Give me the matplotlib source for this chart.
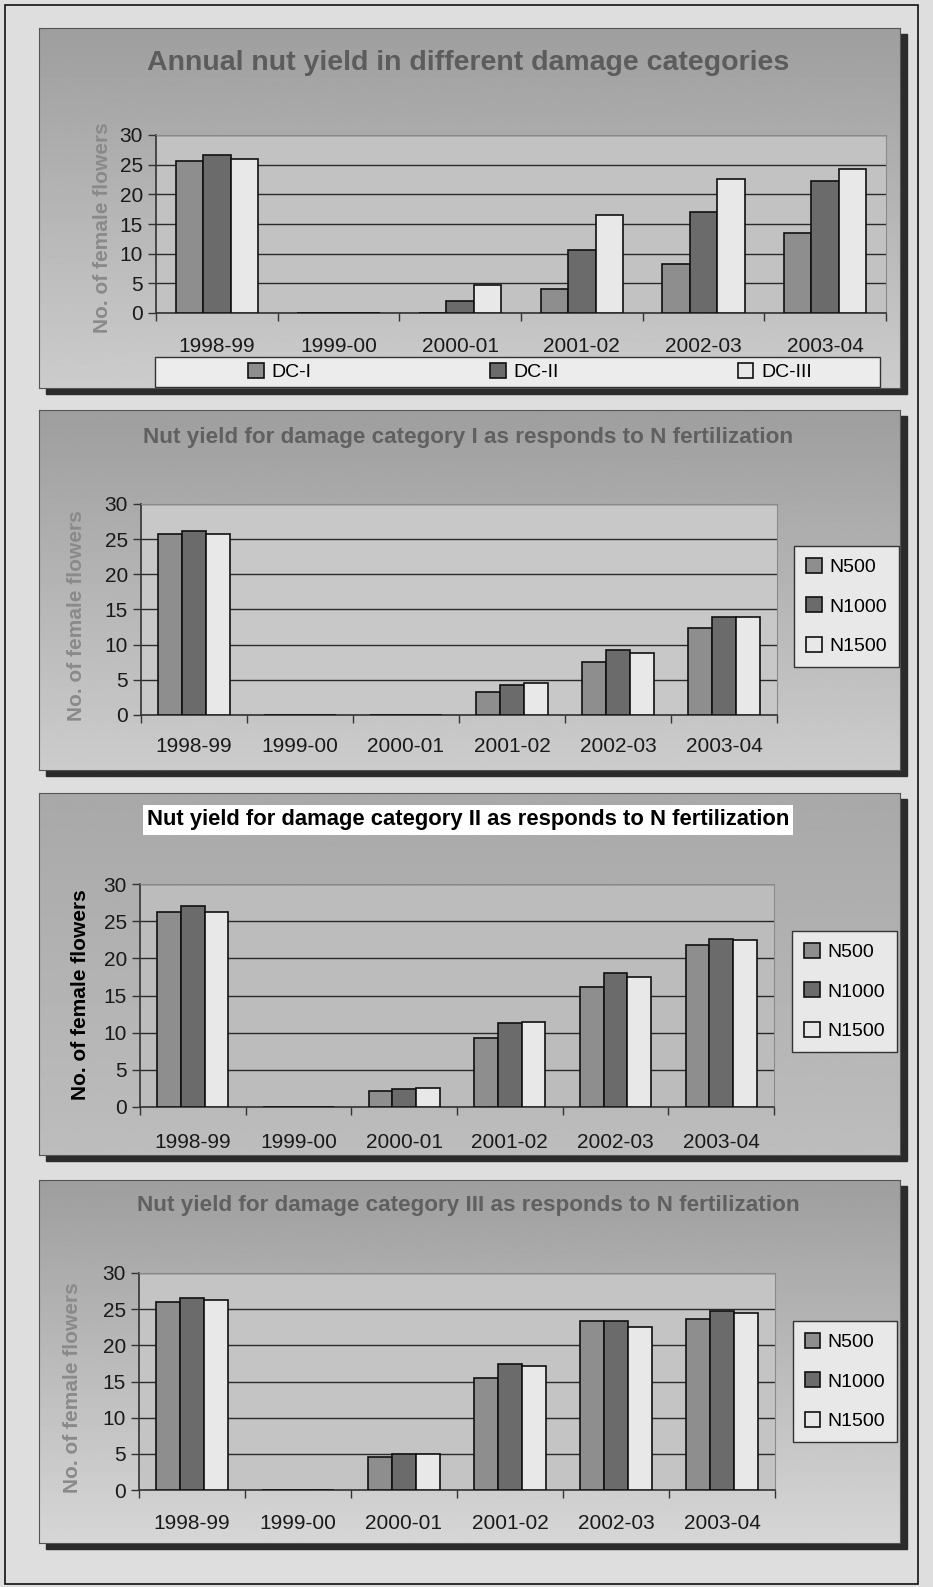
import matplotlib
matplotlib.use("Agg")
import matplotlib.pyplot as plt
from matplotlib.patches import Rectangle
import numpy as np

plt.rcParams['font.family'] = ['Liberation Sans', 'DejaVu Sans']

years = ["1998-99", "1999-00", "2000-01", "2001-02", "2002-03", "2003-04"]

# panel 1: damage categories
dc_labels = ["DC-I", "DC-II", "DC-III"]
dc1 = [25.6, 0, 0, 4.0, 8.2, 13.4]
dc2 = [26.6, 0, 2.1, 10.6, 17.1, 22.2]
dc3 = [25.9, 0, 4.7, 16.5, 22.6, 24.2]

# panels 2-4: N fertilization levels
n_labels = ["N500", "N1000", "N1500"]
cat1_n500 = [25.8, 0, 0, 3.2, 7.5, 12.4]
cat1_n1000 = [26.1, 0, 0, 4.2, 9.2, 14.0]
cat1_n1500 = [25.8, 0, 0, 4.5, 8.8, 14.0]

cat2_n500 = [26.3, 0, 2.1, 9.3, 16.1, 21.8]
cat2_n1000 = [27.0, 0, 2.4, 11.3, 18.0, 22.6]
cat2_n1500 = [26.3, 0, 2.5, 11.4, 17.5, 22.4]

cat3_n500 = [26.0, 0, 4.5, 15.5, 23.3, 23.7]
cat3_n1000 = [26.5, 0, 5.0, 17.4, 23.3, 24.8]
cat3_n1500 = [26.2, 0, 5.0, 17.1, 22.5, 24.5]

titles = ["Annual nut yield in different damage categories",
          "Nut yield for damage category I as responds to N fertilization",
          "Nut yield for damage category II as responds to N fertilization",
          "Nut yield for damage category III as responds to N fertilization"]

bar_colors = ["#8e8e8e", "#6b6b6b", "#e8e8e8"]

W, H = 933, 1587
fig = plt.figure(figsize=(W / 100, H / 100), dpi=100, facecolor="#dedede")


def box(x0, y0, x1, y1):
    # pixel box (y from top) -> figure rect
    return [x0 / W, 1 - y1 / H, (x1 - x0) / W, (y1 - y0) / H]


def fpt(x, y):
    return x / W, 1 - y / H


# page frame
fig.add_artist(Rectangle(fpt(5, 1584), 913 / W, 1579 / H, transform=fig.transFigure,
                         fill=False, edgecolor="#111111", lw=1.2, zorder=-2))

panels = [(39, 28, 900, 388), (39, 410, 900, 770), (39, 793, 900, 1155), (39, 1180, 900, 1543)]
plot_boxes = [(156, 135, 886, 313), (141, 504, 777, 715), (140, 884, 774, 1107), (139, 1273, 775, 1490)]
plot_bg = ["#c2c2c2", "#c8c8c8", "#bcbcbc", "#c4c4c4"]
grad_top = [0.62, 0.62, 0.66, 0.62]
grad_bot = [0.80, 0.80, 0.74, 0.84]
title_y = [63, 438, 820, 1205]
title_size = [20.5, 16.2, 15.8, 16.2]
title_color = ["#5c5c5c", "#606060", "#000000", "#606060"]
xlab_pad = [17.6, 16.2, 19.0, 17.6]
ylab_pos = [(103, 228), (76, 616), (80, 995), (73, 1388)]
ylab_color = ["#8a8a8a", "#8a8a8a", "#000000", "#8a8a8a"]
legend_boxes = [None, (798, 550, 895, 663), (796, 942, 893, 1041), (797, 1326, 893, 1437)]

series = [[dc1, dc2, dc3],
          [cat1_n500, cat1_n1000, cat1_n1500],
          [cat2_n500, cat2_n1000, cat2_n1500],
          [cat3_n500, cat3_n1000, cat3_n1500]]
labels = [dc_labels, n_labels, n_labels, n_labels]

x = np.arange(len(years))
bw = 0.225

for i in range(4):
    x0, y0, x1, y1 = panels[i]
    # shadow
    fig.add_artist(Rectangle(fpt(x0 + 7, y1 + 6), (x1 - x0) / W, (y1 - y0) / H,
                             transform=fig.transFigure, color="#2b2b2b", zorder=-1))
    bg = fig.add_axes(box(x0, y0, x1, y1), zorder=0)
    grad = np.linspace(grad_top[i], grad_bot[i], 256).reshape(-1, 1)
    bg.imshow(grad, aspect="auto", cmap="gray", vmin=0, vmax=1, extent=[0, 1, 0, 1])
    bg.set_xticks([])
    bg.set_yticks([])
    for s in bg.spines.values():
        s.set_color("#555555")
        s.set_linewidth(0.8)

    ax = fig.add_axes(box(*plot_boxes[i]), zorder=2)
    ax.set_facecolor(plot_bg[i])
    for j in range(3):
        ax.bar(x + (j - 1) * bw, series[i][j], bw, color=bar_colors[j],
               edgecolor="#111111", lw=1.2, label=labels[i][j], zorder=3)
    ax.set_xlim(-0.5, 5.5)
    ax.set_ylim(0, 30)
    ax.set_yticks(range(0, 31, 5))
    ax.set_xticks(x)
    ax.set_xticklabels(years)
    ax.set_xticks(np.arange(-0.5, 6, 1), minor=True)
    ax.tick_params(axis="x", which="major", length=0, labelsize=15, pad=xlab_pad[i], colors="#1a1a1a")
    ax.tick_params(axis="x", which="minor", length=6, width=1, color="#333333")
    ax.tick_params(axis="y", length=6, width=1, labelsize=15, color="#333333", labelcolor="#1a1a1a")
    ax.yaxis.grid(True, color="#2a2a2a", lw=1)
    ax.set_axisbelow(True)
    for side in ["left", "bottom"]:
        ax.spines[side].set_color("#333333")
        ax.spines[side].set_linewidth(1.2)
    for side in ["top", "right"]:
        ax.spines[side].set_color("#8a8a8a")

    tx, ty = fpt(468, title_y[i])
    kw = {}
    if i == 2:
        kw["bbox"] = dict(facecolor="white", edgecolor="none", pad=3)
    fig.text(tx, ty, titles[i], ha="center", va="center", fontsize=title_size[i],
             fontweight="bold", color=title_color[i], zorder=5, **kw)

    lx, ly = fpt(*ylab_pos[i])
    fig.text(lx, ly, "No. of female flowers", rotation=90, ha="center", va="center",
             fontsize=15, fontweight="bold", color=ylab_color[i], zorder=5)

    if i == 0:
        fig.add_artist(Rectangle(fpt(155, 387), 725 / W, 30 / H, transform=fig.transFigure,
                                 facecolor="#ececec", edgecolor="#333333", lw=1, zorder=3))
        fig.legend(*ax.get_legend_handles_labels(), loc="center left",
                   bbox_to_anchor=fpt(248, 372), ncol=3, frameon=False, fontsize=14,
                   handlelength=0.8, handleheight=0.8, handletextpad=0.4,
                   columnspacing=9.2, borderpad=0, borderaxespad=0).set_zorder(4)
    else:
        bx0, by0, bx1, by1 = legend_boxes[i]
        leg = fig.legend(*ax.get_legend_handles_labels(), loc="center",
                         bbox_to_anchor=fpt((bx0 + bx1) / 2, (by0 + by1) / 2),
                         fontsize=14, handlelength=0.8, handleheight=0.8,
                         handletextpad=0.4, labelspacing=1.1, borderpad=0.6,
                         fancybox=False, framealpha=1, edgecolor="#333333",
                         facecolor="#e8e8e8", borderaxespad=0)
        leg.get_frame().set_linewidth(1)
        leg.set_zorder(4)

fig.savefig("out.png", dpi=100, facecolor=fig.get_facecolor())
